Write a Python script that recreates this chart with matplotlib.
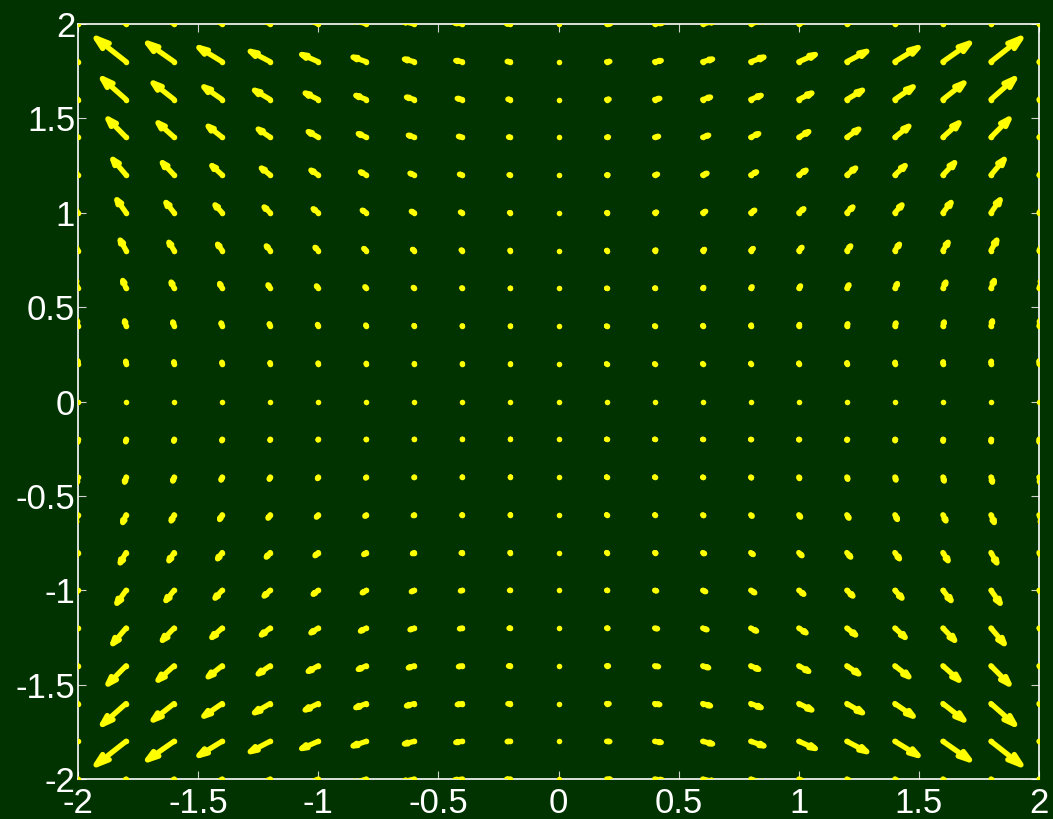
import numpy as np
import matplotlib
matplotlib.use("Agg")
import matplotlib.pyplot as plt
from matplotlib.collections import LineCollection

BG = "#003300"
ARROW = "#ffff00"

# grid points (x across, y up) and the vector components at each point,
# one row per y value from -2 to 2
xs = [-2.0, -1.8, -1.6, -1.4, -1.2, -1.0, -0.8, -0.6, -0.4, -0.2, 0.0,
      0.2, 0.4, 0.6, 0.8, 1.0, 1.2, 1.4, 1.6, 1.8, 2.0]
ys = [-2.0, -1.8, -1.6, -1.4, -1.2, -1.0, -0.8, -0.6, -0.4, -0.2, 0.0,
      0.2, 0.4, 0.6, 0.8, 1.0, 1.2, 1.4, 1.6, 1.8, 2.0]

u_rows = [
    [-8.0, -7.2, -6.4, -5.6, -4.8, -4.0, -3.2, -2.4, -1.6, -0.8, 0.0, 0.8, 1.6, 2.4, 3.2, 4.0, 4.8, 5.6, 6.4, 7.2, 8.0],
    [-6.48, -5.83, -5.18, -4.54, -3.89, -3.24, -2.59, -1.94, -1.3, -0.65, 0.0, 0.65, 1.3, 1.94, 2.59, 3.24, 3.89, 4.54, 5.18, 5.83, 6.48],
    [-5.12, -4.61, -4.1, -3.58, -3.07, -2.56, -2.05, -1.54, -1.02, -0.51, 0.0, 0.51, 1.02, 1.54, 2.05, 2.56, 3.07, 3.58, 4.1, 4.61, 5.12],
    [-3.92, -3.53, -3.14, -2.74, -2.35, -1.96, -1.57, -1.18, -0.78, -0.39, 0.0, 0.39, 0.78, 1.18, 1.57, 1.96, 2.35, 2.74, 3.14, 3.53, 3.92],
    [-2.88, -2.59, -2.3, -2.02, -1.73, -1.44, -1.15, -0.86, -0.58, -0.29, 0.0, 0.29, 0.58, 0.86, 1.15, 1.44, 1.73, 2.02, 2.3, 2.59, 2.88],
    [-2.0, -1.8, -1.6, -1.4, -1.2, -1.0, -0.8, -0.6, -0.4, -0.2, 0.0, 0.2, 0.4, 0.6, 0.8, 1.0, 1.2, 1.4, 1.6, 1.8, 2.0],
    [-1.28, -1.15, -1.02, -0.9, -0.77, -0.64, -0.51, -0.38, -0.26, -0.13, 0.0, 0.13, 0.26, 0.38, 0.51, 0.64, 0.77, 0.9, 1.02, 1.15, 1.28],
    [-0.72, -0.65, -0.58, -0.5, -0.43, -0.36, -0.29, -0.22, -0.14, -0.07, 0.0, 0.07, 0.14, 0.22, 0.29, 0.36, 0.43, 0.5, 0.58, 0.65, 0.72],
    [-0.32, -0.29, -0.26, -0.22, -0.19, -0.16, -0.13, -0.1, -0.06, -0.03, 0.0, 0.03, 0.06, 0.1, 0.13, 0.16, 0.19, 0.22, 0.26, 0.29, 0.32],
    [-0.08, -0.07, -0.06, -0.06, -0.05, -0.04, -0.03, -0.02, -0.02, -0.01, 0.0, 0.01, 0.02, 0.02, 0.03, 0.04, 0.05, 0.06, 0.06, 0.07, 0.08],
    [0.0] * 21,
    [-0.08, -0.07, -0.06, -0.06, -0.05, -0.04, -0.03, -0.02, -0.02, -0.01, 0.0, 0.01, 0.02, 0.02, 0.03, 0.04, 0.05, 0.06, 0.06, 0.07, 0.08],
    [-0.32, -0.29, -0.26, -0.22, -0.19, -0.16, -0.13, -0.1, -0.06, -0.03, 0.0, 0.03, 0.06, 0.1, 0.13, 0.16, 0.19, 0.22, 0.26, 0.29, 0.32],
    [-0.72, -0.65, -0.58, -0.5, -0.43, -0.36, -0.29, -0.22, -0.14, -0.07, 0.0, 0.07, 0.14, 0.22, 0.29, 0.36, 0.43, 0.5, 0.58, 0.65, 0.72],
    [-1.28, -1.15, -1.02, -0.9, -0.77, -0.64, -0.51, -0.38, -0.26, -0.13, 0.0, 0.13, 0.26, 0.38, 0.51, 0.64, 0.77, 0.9, 1.02, 1.15, 1.28],
    [-2.0, -1.8, -1.6, -1.4, -1.2, -1.0, -0.8, -0.6, -0.4, -0.2, 0.0, 0.2, 0.4, 0.6, 0.8, 1.0, 1.2, 1.4, 1.6, 1.8, 2.0],
    [-2.88, -2.59, -2.3, -2.02, -1.73, -1.44, -1.15, -0.86, -0.58, -0.29, 0.0, 0.29, 0.58, 0.86, 1.15, 1.44, 1.73, 2.02, 2.3, 2.59, 2.88],
    [-3.92, -3.53, -3.14, -2.74, -2.35, -1.96, -1.57, -1.18, -0.78, -0.39, 0.0, 0.39, 0.78, 1.18, 1.57, 1.96, 2.35, 2.74, 3.14, 3.53, 3.92],
    [-5.12, -4.61, -4.1, -3.58, -3.07, -2.56, -2.05, -1.54, -1.02, -0.51, 0.0, 0.51, 1.02, 1.54, 2.05, 2.56, 3.07, 3.58, 4.1, 4.61, 5.12],
    [-6.48, -5.83, -5.18, -4.54, -3.89, -3.24, -2.59, -1.94, -1.3, -0.65, 0.0, 0.65, 1.3, 1.94, 2.59, 3.24, 3.89, 4.54, 5.18, 5.83, 6.48],
    [-8.0, -7.2, -6.4, -5.6, -4.8, -4.0, -3.2, -2.4, -1.6, -0.8, 0.0, 0.8, 1.6, 2.4, 3.2, 4.0, 4.8, 5.6, 6.4, 7.2, 8.0],
]

v_rows = [
    [-8.0, -6.48, -5.12, -3.92, -2.88, -2.0, -1.28, -0.72, -0.32, -0.08, 0.0, -0.08, -0.32, -0.72, -1.28, -2.0, -2.88, -3.92, -5.12, -6.48, -8.0],
    [-7.2, -5.83, -4.61, -3.53, -2.59, -1.8, -1.15, -0.65, -0.29, -0.07, 0.0, -0.07, -0.29, -0.65, -1.15, -1.8, -2.59, -3.53, -4.61, -5.83, -7.2],
    [-6.4, -5.18, -4.1, -3.14, -2.3, -1.6, -1.02, -0.58, -0.26, -0.06, 0.0, -0.06, -0.26, -0.58, -1.02, -1.6, -2.3, -3.14, -4.1, -5.18, -6.4],
    [-5.6, -4.54, -3.58, -2.74, -2.02, -1.4, -0.9, -0.5, -0.22, -0.06, 0.0, -0.06, -0.22, -0.5, -0.9, -1.4, -2.02, -2.74, -3.58, -4.54, -5.6],
    [-4.8, -3.89, -3.07, -2.35, -1.73, -1.2, -0.77, -0.43, -0.19, -0.05, 0.0, -0.05, -0.19, -0.43, -0.77, -1.2, -1.73, -2.35, -3.07, -3.89, -4.8],
    [-4.0, -3.24, -2.56, -1.96, -1.44, -1.0, -0.64, -0.36, -0.16, -0.04, 0.0, -0.04, -0.16, -0.36, -0.64, -1.0, -1.44, -1.96, -2.56, -3.24, -4.0],
    [-3.2, -2.59, -2.05, -1.57, -1.15, -0.8, -0.51, -0.29, -0.13, -0.03, 0.0, -0.03, -0.13, -0.29, -0.51, -0.8, -1.15, -1.57, -2.05, -2.59, -3.2],
    [-2.4, -1.94, -1.54, -1.18, -0.86, -0.6, -0.38, -0.22, -0.1, -0.02, 0.0, -0.02, -0.1, -0.22, -0.38, -0.6, -0.86, -1.18, -1.54, -1.94, -2.4],
    [-1.6, -1.3, -1.02, -0.78, -0.58, -0.4, -0.26, -0.14, -0.06, -0.02, 0.0, -0.02, -0.06, -0.14, -0.26, -0.4, -0.58, -0.78, -1.02, -1.3, -1.6],
    [-0.8, -0.65, -0.51, -0.39, -0.29, -0.2, -0.13, -0.07, -0.03, -0.01, 0.0, -0.01, -0.03, -0.07, -0.13, -0.2, -0.29, -0.39, -0.51, -0.65, -0.8],
    [0.0] * 21,
    [0.8, 0.65, 0.51, 0.39, 0.29, 0.2, 0.13, 0.07, 0.03, 0.01, 0.0, 0.01, 0.03, 0.07, 0.13, 0.2, 0.29, 0.39, 0.51, 0.65, 0.8],
    [1.6, 1.3, 1.02, 0.78, 0.58, 0.4, 0.26, 0.14, 0.06, 0.02, 0.0, 0.02, 0.06, 0.14, 0.26, 0.4, 0.58, 0.78, 1.02, 1.3, 1.6],
    [2.4, 1.94, 1.54, 1.18, 0.86, 0.6, 0.38, 0.22, 0.1, 0.02, 0.0, 0.02, 0.1, 0.22, 0.38, 0.6, 0.86, 1.18, 1.54, 1.94, 2.4],
    [3.2, 2.59, 2.05, 1.57, 1.15, 0.8, 0.51, 0.29, 0.13, 0.03, 0.0, 0.03, 0.13, 0.29, 0.51, 0.8, 1.15, 1.57, 2.05, 2.59, 3.2],
    [4.0, 3.24, 2.56, 1.96, 1.44, 1.0, 0.64, 0.36, 0.16, 0.04, 0.0, 0.04, 0.16, 0.36, 0.64, 1.0, 1.44, 1.96, 2.56, 3.24, 4.0],
    [4.8, 3.89, 3.07, 2.35, 1.73, 1.2, 0.77, 0.43, 0.19, 0.05, 0.0, 0.05, 0.19, 0.43, 0.77, 1.2, 1.73, 2.35, 3.07, 3.89, 4.8],
    [5.6, 4.54, 3.58, 2.74, 2.02, 1.4, 0.9, 0.5, 0.22, 0.06, 0.0, 0.06, 0.22, 0.5, 0.9, 1.4, 2.02, 2.74, 3.58, 4.54, 5.6],
    [6.4, 5.18, 4.1, 3.14, 2.3, 1.6, 1.02, 0.58, 0.26, 0.06, 0.0, 0.06, 0.26, 0.58, 1.02, 1.6, 2.3, 3.14, 4.1, 5.18, 6.4],
    [7.2, 5.83, 4.61, 3.53, 2.59, 1.8, 1.15, 0.65, 0.29, 0.07, 0.0, 0.07, 0.29, 0.65, 1.15, 1.8, 2.59, 3.53, 4.61, 5.83, 7.2],
    [8.0, 6.48, 5.12, 3.92, 2.88, 2.0, 1.28, 0.72, 0.32, 0.08, 0.0, 0.08, 0.32, 0.72, 1.28, 2.0, 2.88, 3.92, 5.12, 6.48, 8.0],
]

ticks = [-2, -1.5, -1, -0.5, 0, 0.5, 1, 1.5, 2]
tick_labels = ["-2", "-1.5", "-1", "-0.5", "0", "0.5", "1", "1.5", "2"]


def arrow_segments(X, Y, U, V, alpha=0.33, beta=0.33):
    """Shaft and V-head polylines, autoscaled so the longest arrow fits a cell."""
    ny, nx = X.shape
    delx = (X.max() - X.min()) / nx
    dely = (Y.max() - Y.min()) / ny
    maxlen = np.sqrt((U ** 2 + V ** 2) / (delx ** 2 + dely ** 2)).max()
    s = 0.9 / maxlen
    u, v = U * s, V * s
    segs = []
    for x0, y0, du, dv in zip(X.ravel(), Y.ravel(), u.ravel(), v.ravel()):
        if np.hypot(du, dv) < 1e-9:
            continue
        tx, ty = x0 + du, y0 + dv
        segs.append([(x0, y0), (tx, ty)])
        segs.append([(tx - alpha * (du + beta * dv), ty - alpha * (dv - beta * du)),
                     (tx, ty),
                     (tx - alpha * (du - beta * dv), ty - alpha * (dv + beta * du))])
    return segs


X, Y = np.meshgrid(xs, ys)
U = np.array(u_rows)
V = np.array(v_rows)

plt.rcParams["font.family"] = ["Liberation Sans", "DejaVu Sans"]
plt.rcParams["axes.unicode_minus"] = False

fig = plt.figure(figsize=(10.53, 8.19), dpi=100, facecolor=BG)
ax = fig.add_axes([0.0741, 0.0488, 0.9126, 0.9219], facecolor=BG)

LW = 3.8
lc = LineCollection(arrow_segments(X, Y, U, V), colors=ARROW, linewidths=LW,
                    capstyle="round", joinstyle="bevel", zorder=3)
ax.add_collection(lc)
# zero-length vectors still show as a round dot of the shaft width
ax.scatter(X.ravel(), Y.ravel(), s=LW ** 2 * 1.1, color=ARROW, linewidths=0, zorder=3)

ax.set_xlim(-2, 2)
ax.set_ylim(-2, 2)
ax.set_xticks(ticks)
ax.set_xticklabels(tick_labels)
ax.set_yticks(ticks)
ax.set_yticklabels(tick_labels)
ax.tick_params(direction="in", length=6, width=0.8, color="#d0d0d0",
               top=True, right=True, labelsize=25, labelcolor="white")
ax.tick_params(axis="x", pad=5.5)
ax.tick_params(axis="y", pad=2)
for sp in ax.spines.values():
    sp.set_color("white")
    sp.set_linewidth(1.2)

fig.savefig("out.png", dpi=100, facecolor=BG)
